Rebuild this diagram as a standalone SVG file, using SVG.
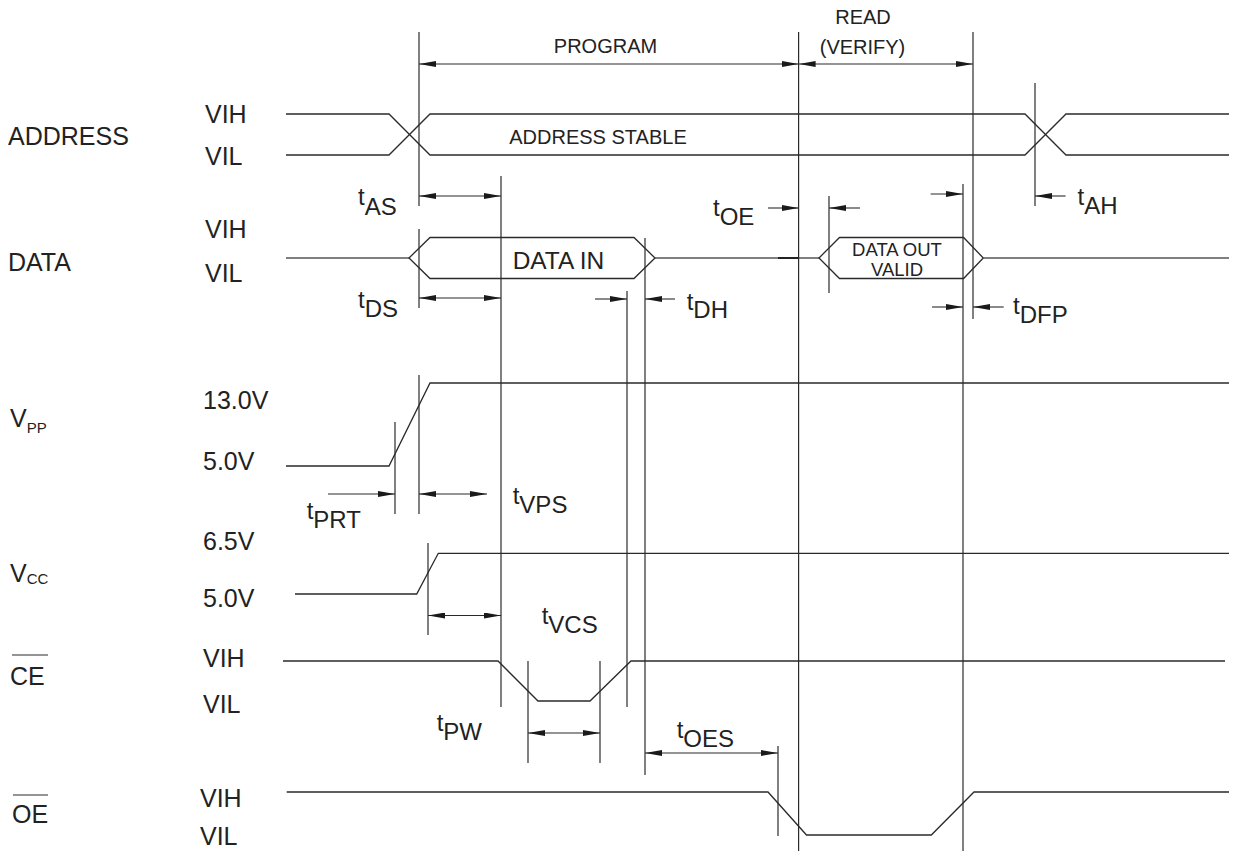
<svg xmlns="http://www.w3.org/2000/svg" width="1233" height="851" viewBox="0 0 1233 851">
<style>
text{font-family:"Liberation Sans",Arial,sans-serif;fill:#222}
.lbl{font-size:25px}
.tl{font-size:24px}
.sm{font-size:20px}
.sub{font-size:15px}
.w{fill:none;stroke:#2a2a2a;stroke-width:1.3;stroke-linejoin:miter}
.g{fill:none;stroke:#555;stroke-width:1.4}
.v{stroke:#2a2a2a;stroke-width:1.2}
.a{stroke:#2a2a2a;stroke-width:1.1}
</style>
<defs>
<marker id="ah" viewBox="0 0 17 6" refX="17" refY="3" markerWidth="17" markerHeight="6" orient="auto-start-reverse" markerUnits="userSpaceOnUse"><path d="M0,0 L17,3 L0,6 Z" fill="#1a1a1a"/></marker>
</defs>
<rect width="1233" height="851" fill="#fff"/>

<g id="labels">
<g id="lbl-address"><text class="lbl" x="8" y="145">ADDRESS</text><text class="lbl" x="205" y="123">VIH</text><text class="lbl" x="205" y="165">VIL</text></g>
<g id="lbl-data"><text class="lbl" x="8" y="271">DATA</text><text class="lbl" x="205" y="238">VIH</text><text class="lbl" x="205" y="282">VIL</text></g>
<g id="lbl-vpp"><text class="lbl" x="10" y="427">V<tspan class="sub" dy="6">PP</tspan></text><text class="lbl" x="203" y="409">13.0V</text><text class="lbl" x="203" y="470">5.0V</text></g>
<g id="lbl-vcc"><text class="lbl" x="10" y="582">V<tspan class="sub" dy="2">CC</tspan></text><text class="lbl" x="203" y="550">6.5V</text><text class="lbl" x="203" y="607">5.0V</text></g>
<g id="lbl-ce"><text class="lbl" x="10" y="685">CE</text><line x1="12" y1="655" x2="48" y2="655" class="v"/><text class="lbl" x="203" y="667">VIH</text><text class="lbl" x="203" y="713">VIL</text></g>
<g id="lbl-oe"><text class="lbl" x="12" y="823">OE</text><line x1="13" y1="795" x2="48" y2="795" class="v"/><text class="lbl" x="200" y="807">VIH</text><text class="lbl" x="200" y="845">VIL</text></g>
</g>

<g id="phases">
<text class="sm" x="605.5" y="53" text-anchor="middle">PROGRAM</text>
<text class="sm" x="863" y="24" text-anchor="middle">READ</text>
<text class="sm" x="862.5" y="54" text-anchor="middle">(VERIFY)</text>
</g>

<g id="waveforms">
<g id="wave-address">
<polyline class="w" points="286,114 389,114 430,155 1025,155 1066,114 1229,114"/>
<polyline class="w" points="286,155 389,155 430,114 1025,114 1066,155 1229,155"/>
<text class="sm" x="598" y="144" text-anchor="middle">ADDRESS STABLE</text>
</g>
<g id="wave-data">
<line class="g" x1="286" y1="258" x2="409" y2="258"/>
<polygon class="w" points="409,258 430,237.5 634,237.5 655,258 634,278.5 430,278.5"/>
<text class="lbl" x="558.5" y="269" text-anchor="middle" style="font-size:24.5px">DATA IN</text>
<line class="g" x1="655" y1="258" x2="819" y2="258"/>
<line x1="778" y1="258" x2="799" y2="258" stroke="#222" stroke-width="2"/>
<polygon class="w" points="819,258 839.5,237.5 963.6,237.5 983.3,258 963.6,278.5 839.5,278.5"/>
<text x="897" y="256" text-anchor="middle" style="font-size:18.5px">DATA OUT</text>
<text x="897" y="276" text-anchor="middle" style="font-size:18.5px">VALID</text>
<line class="g" x1="983.3" y1="258" x2="1229" y2="258"/>
</g>
<g id="wave-vpp"><polyline class="w" points="286,466 389,466 430,383 1229,383"/></g>
<g id="wave-vcc"><polyline class="w" points="295,594 416.7,594 438.3,553.3 1229,553.3"/></g>
<g id="wave-ce"><polyline class="w" points="283,661 498,661 538,701 590,701 631,661 1225,661"/></g>
<g id="wave-oe"><polyline class="w" points="286.7,792 768,792 806.5,835 931.3,835 974,792 1229,792"/></g>
</g>

<g id="connectors">
<line class="v" x1="419" y1="32" x2="419" y2="206"/>
<line class="v" x1="419" y1="229" x2="419" y2="308"/>
<line class="v" x1="419" y1="375" x2="419" y2="514"/>
<line class="v" x1="501" y1="176" x2="501" y2="707"/>
<line class="v" x1="627" y1="291" x2="627" y2="707"/>
<line class="v" x1="645" y1="238" x2="645" y2="775"/>
<line class="v" x1="798.6" y1="32" x2="798.6" y2="851"/>
<line class="v" x1="973" y1="32" x2="973" y2="319"/>
<line class="v" x1="963" y1="184" x2="963" y2="851"/>
<line class="v" x1="829" y1="196" x2="829" y2="293"/>
<line class="v" x1="1035" y1="83" x2="1035" y2="206"/>
<line class="v" x1="395" y1="422" x2="395" y2="514"/>
<line class="v" x1="428" y1="543" x2="428" y2="635"/>
<line class="v" x1="528" y1="661" x2="528" y2="763"/>
<line class="v" x1="600" y1="661" x2="600" y2="763"/>
<line class="v" x1="778" y1="746" x2="778" y2="836"/>

<line class="a" x1="419" y1="64" x2="798.6" y2="64" marker-start="url(#ah)" marker-end="url(#ah)"/>
<line class="a" x1="798.6" y1="64" x2="973" y2="64" marker-start="url(#ah)" marker-end="url(#ah)"/>
<line class="a" x1="419" y1="196" x2="501" y2="196" marker-start="url(#ah)" marker-end="url(#ah)"/>
<line class="a" x1="419" y1="298" x2="501" y2="298" marker-start="url(#ah)" marker-end="url(#ah)"/>
<line class="a" x1="595" y1="299" x2="627" y2="299" marker-end="url(#ah)"/>
<line class="a" x1="675" y1="299" x2="645" y2="299" marker-end="url(#ah)"/>
<line class="a" x1="768" y1="208" x2="798.6" y2="208" marker-end="url(#ah)"/>
<line class="a" x1="860" y1="208" x2="829" y2="208" marker-end="url(#ah)"/>
<line class="a" x1="930.6" y1="194" x2="963" y2="194" marker-end="url(#ah)"/>
<line class="a" x1="1065.6" y1="196" x2="1035" y2="196" marker-end="url(#ah)"/>
<line class="a" x1="932" y1="307" x2="963" y2="307" marker-end="url(#ah)"/>
<line class="a" x1="1003.7" y1="307" x2="973" y2="307" marker-end="url(#ah)"/>
<line class="a" x1="328" y1="494" x2="395" y2="494" marker-end="url(#ah)"/>
<line class="a" x1="419" y1="494" x2="487" y2="494" marker-start="url(#ah)" marker-end="url(#ah)"/>
<line class="a" x1="428" y1="615.5" x2="501" y2="615.5" marker-start="url(#ah)" marker-end="url(#ah)"/>
<line class="a" x1="528" y1="733" x2="600" y2="733" marker-start="url(#ah)" marker-end="url(#ah)"/>
<line class="a" x1="645" y1="753" x2="778" y2="753" marker-start="url(#ah)" marker-end="url(#ah)"/>
</g>

<g id="timing-labels">
<text class="tl" x="358" y="205">t<tspan dy="10">AS</tspan></text>
<text class="tl" x="358" y="308">t<tspan dy="9">DS</tspan></text>
<text class="tl" x="713" y="216">t<tspan dy="9">OE</tspan></text>
<text class="tl" x="1077.6" y="205">t<tspan dy="9">AH</tspan></text>
<text class="tl" x="686.7" y="310">t<tspan dy="8">DH</tspan></text>
<text class="tl" x="1013" y="314">t<tspan dy="9">DFP</tspan></text>
<text class="tl" x="306.7" y="519">t<tspan dy="9">PRT</tspan></text>
<text class="tl" x="512.7" y="504">t<tspan dy="9">VPS</tspan></text>
<text class="tl" x="541.7" y="624">t<tspan dy="9">VCS</tspan></text>
<text class="tl" x="436.7" y="731">t<tspan dy="9">PW</tspan></text>
<text class="tl" x="676.7" y="738">t<tspan dy="9">OES</tspan></text>
</g>
</svg>
